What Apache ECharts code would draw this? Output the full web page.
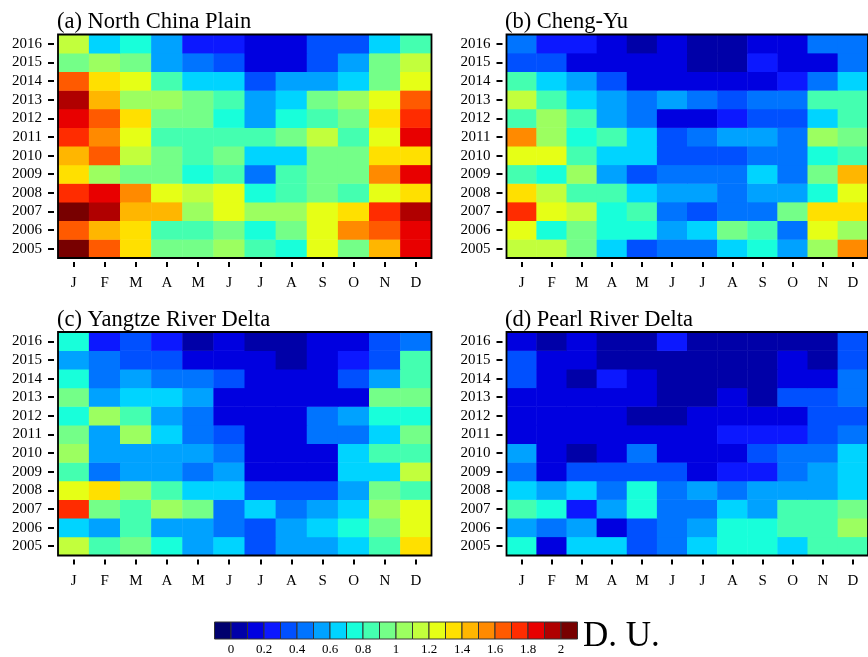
<!DOCTYPE html>
<html>
<head>
<meta charset="utf-8">
<script src="https://cdn.jsdelivr.net/npm/echarts@6/dist/echarts.min.js"></script>
<style>
html,body{margin:0;padding:0;background:#fff;}
#c{width:868px;height:657px;}
</style>
</head>
<body>
<div id="c"></div>
<script>
// ---- data (D.U.), rows = years 2005..2016, columns = J..D ----
const months = ['J','F','M','A','M','J','J','A','S','O','N','D'];
const years = ['2005','2006','2007','2008','2009','2010','2011','2012','2013','2014','2015','2016'];
const titles = ['(a) North China Plain','(b) Cheng-Yu','(c) Yangtze River Delta','(d) Pearl River Delta'];

const northChinaPlain = [
  [2.05,1.65,1.35,0.95,0.95,1.05,0.85,0.75,1.25,0.95,1.45,1.85],
  [1.65,1.45,1.35,0.85,0.85,0.95,0.75,0.95,1.25,1.55,1.65,1.85],
  [2.05,1.95,1.45,1.45,1.05,1.25,1.05,1.05,1.25,1.35,1.75,1.95],
  [1.75,1.85,1.55,1.25,1.15,1.25,0.75,0.85,0.95,0.85,1.25,1.35],
  [1.35,1.05,0.95,0.95,0.75,0.85,0.45,0.85,0.95,0.95,1.55,1.85],
  [1.45,1.65,1.15,0.95,0.85,0.95,0.65,0.65,0.95,0.95,1.35,1.35],
  [1.75,1.55,1.25,0.85,0.85,0.85,0.85,0.95,1.15,0.85,1.25,1.85],
  [1.85,1.65,1.35,0.95,0.95,0.75,0.55,0.75,0.85,0.95,1.35,1.75],
  [1.95,1.45,1.05,1.05,0.95,0.85,0.55,0.65,0.95,1.05,1.25,1.65],
  [1.65,1.35,1.25,0.85,0.65,0.65,0.35,0.55,0.55,0.65,0.95,1.25],
  [0.95,1.05,0.95,0.55,0.45,0.35,0.15,0.15,0.35,0.55,0.95,1.15],
  [1.15,0.65,0.75,0.55,0.25,0.25,0.15,0.15,0.35,0.35,0.65,0.85]
];
const chengYu = [
  [1.15,1.15,0.95,0.65,0.35,0.45,0.45,0.65,0.75,0.55,1.05,1.55],
  [1.25,0.75,0.95,0.75,0.75,0.55,0.65,0.95,0.85,0.45,1.25,1.05],
  [1.75,1.25,1.15,0.75,0.85,0.45,0.35,0.45,0.45,0.95,1.35,1.35],
  [1.35,1.15,0.85,0.85,0.65,0.55,0.55,0.45,0.55,0.55,0.75,1.25],
  [0.85,0.75,1.05,0.55,0.35,0.45,0.45,0.45,0.65,0.45,0.95,1.45],
  [1.25,1.25,0.85,0.65,0.65,0.35,0.35,0.35,0.45,0.45,0.75,0.85],
  [1.55,1.05,0.75,0.85,0.65,0.35,0.45,0.55,0.55,0.45,1.05,0.95],
  [0.85,1.05,0.85,0.55,0.45,0.15,0.15,0.25,0.35,0.35,0.65,0.85],
  [1.15,0.85,0.65,0.55,0.45,0.55,0.45,0.35,0.45,0.45,0.85,0.85],
  [0.85,0.65,0.55,0.35,0.15,0.15,0.15,0.15,0.15,0.25,0.45,0.65],
  [0.35,0.35,0.15,0.15,0.15,0.15,0.05,0.05,0.25,0.15,0.15,0.45],
  [0.45,0.25,0.25,0.15,0.05,0.15,0.05,0.05,0.15,0.15,0.45,0.45]
];
const yangtzeRiverDelta = [
  [1.15,0.85,0.95,0.75,0.55,0.65,0.35,0.55,0.55,0.65,0.85,1.35],
  [0.65,0.55,0.85,0.55,0.55,0.45,0.35,0.55,0.65,0.75,0.95,1.25],
  [1.75,0.95,0.85,1.05,0.95,0.45,0.65,0.45,0.55,0.65,1.05,1.25],
  [1.25,1.35,1.05,0.85,0.65,0.65,0.35,0.35,0.35,0.55,0.95,0.85],
  [0.85,0.45,0.55,0.55,0.45,0.55,0.15,0.15,0.15,0.65,0.65,1.15],
  [1.05,0.55,0.55,0.55,0.55,0.45,0.15,0.15,0.15,0.65,0.85,0.85],
  [0.95,0.55,1.05,0.65,0.45,0.35,0.15,0.15,0.45,0.45,0.65,0.95],
  [0.75,1.05,0.85,0.55,0.45,0.15,0.15,0.15,0.45,0.55,0.75,0.75],
  [0.95,0.55,0.65,0.65,0.55,0.15,0.15,0.15,0.15,0.15,0.95,0.95],
  [0.75,0.45,0.55,0.45,0.45,0.35,0.15,0.15,0.15,0.35,0.55,0.85],
  [0.55,0.45,0.35,0.35,0.15,0.15,0.15,0.05,0.15,0.25,0.35,0.85],
  [0.75,0.25,0.35,0.25,0.05,0.15,0.05,0.05,0.15,0.15,0.35,0.45]
];
const pearlRiverDelta = [
  [0.75,0.15,0.65,0.65,0.35,0.45,0.65,0.75,0.75,0.65,0.85,0.85],
  [0.55,0.45,0.55,0.15,0.35,0.45,0.55,0.75,0.75,0.85,0.85,1.05],
  [0.85,0.75,0.25,0.55,0.75,0.45,0.45,0.65,0.55,0.85,0.85,0.95],
  [0.65,0.55,0.65,0.45,0.75,0.45,0.55,0.45,0.55,0.55,0.55,0.65],
  [0.45,0.15,0.35,0.35,0.35,0.35,0.15,0.25,0.25,0.45,0.55,0.65],
  [0.55,0.15,0.05,0.15,0.45,0.15,0.15,0.15,0.35,0.45,0.45,0.65],
  [0.15,0.15,0.15,0.15,0.15,0.15,0.15,0.25,0.25,0.25,0.35,0.45],
  [0.15,0.15,0.15,0.15,0.05,0.05,0.15,0.15,0.15,0.15,0.35,0.35],
  [0.15,0.15,0.15,0.15,0.15,0.05,0.05,0.15,0.05,0.35,0.35,0.45],
  [0.35,0.15,0.05,0.25,0.15,0.05,0.05,0.05,0.05,0.15,0.15,0.45],
  [0.35,0.15,0.15,0.05,0.05,0.05,0.05,0.05,0.05,0.15,0.05,0.35],
  [0.15,0.05,0.15,0.05,0.05,0.25,0.05,0.05,0.05,0.05,0.05,0.35]
];

// colour-bar levels and tick labels
const levels = [0,0.1,0.2,0.3,0.4,0.5,0.6,0.7,0.8,0.9,1.0,1.1,1.2,1.3,1.4,1.5,1.6,1.7,1.8,1.9,2.0];
const levelLabels = ['0','0.2','0.4','0.6','0.8','1','1.2','1.4','1.6','1.8','2'];
const colors = ['#00006e','#0000a8','#0000e0','#0c18ff','#0050ff','#0074ff','#00a2ff','#00d4ff',
  '#18ffda','#44ffb0','#74ff88','#9cff60','#c2ff3c','#e6ff16','#ffe000','#ffb600','#ff8a00',
  '#ff5a00','#ff2c00','#e80000','#b00000','#780000'];

// ---- build option ----
const SERIF = 'Liberation Serif';
const panels = [northChinaPlain, chengYu, yangtzeRiverDelta, pearlRiverDelta];
const gridPos = [
  {left:58, top:34.5, width:373.5, height:223.5},
  {left:506.5, top:34.5, width:373.5, height:223.5},
  {left:58, top:332, width:373.5, height:223.5},
  {left:506.5, top:332, width:373.5, height:223.5}
];
const titlePos = [[57,11],[505,11],[57,309],[505,309]];

const pieces = [];
pieces.push({lt: levels[0], color: colors[0]});
for (let i = 0; i < levels.length - 1; i++) pieces.push({gte: levels[i], lt: levels[i+1], color: colors[i+1]});
pieces.push({gte: levels[levels.length-1], color: colors[colors.length-1]});

const grid = [], xAxis = [], yAxis = [], series = [], title = [];
panels.forEach((rows, p) => {
  grid.push(Object.assign({show:true, borderColor:'#000', borderWidth:1.8, backgroundColor:'transparent', z:10}, gridPos[p]));
  xAxis.push({type:'category', gridIndex:p, data:months, position:'bottom', offset:4,
    axisLine:{show:false}, axisTick:{show:true, alignWithLabel:true, length:5, lineStyle:{color:'#000', width:2}},
    axisLabel:{interval:0, margin:14, color:'#000', fontFamily:SERIF, fontSize:15}, splitLine:{show:false}});
  yAxis.push({type:'category', gridIndex:p, data:years, position:'left', offset:4,
    axisLine:{show:false}, axisTick:{show:true, alignWithLabel:true, length:6, lineStyle:{color:'#000', width:2}},
    axisLabel:{interval:0, margin:12, color:'#000', fontFamily:SERIF, fontSize:15}, splitLine:{show:false}});
  const data = [];
  rows.forEach((row, yi) => row.forEach((v, xi) => data.push([xi, yi, v])));
  series.push({type:'heatmap', xAxisIndex:p, yAxisIndex:p, data:data, itemStyle:{borderWidth:0}, emphasis:{disabled:true}, silent:true, progressive:0});
  title.push({text:titles[p], left:titlePos[p][0], top:titlePos[p][1], padding:0,
    textStyle:{fontFamily:SERIF, fontSize:22.5, fontWeight:'normal', color:'#000'}});
});

// colour bar
const cbIndex = 4;
grid.push({left:214.5, top:622, width:363, height:17});
xAxis.push({type:'value', gridIndex:cbIndex, min:-0.1, max:2.1, interval:0.1,
  axisLine:{show:false}, axisTick:{show:false}, splitLine:{show:false},
  axisLabel:{margin:4, color:'#000', fontFamily:SERIF, fontSize:13, showMinLabel:true, showMaxLabel:true,
    formatter:function(v){ const k = Math.round(v*10); if (k < 0 || k > 20 || k % 2) return ''; return levelLabels[k/2]; }}});
yAxis.push({type:'value', gridIndex:cbIndex, min:0, max:1, show:false});
const cbData = colors.map((c, i) => [i === 0 ? levels[0] - 0.1 : levels[i-1], i < levels.length ? levels[i] : levels[levels.length-1] + 0.1, i]);
series.push({type:'custom', xAxisIndex:cbIndex, yAxisIndex:cbIndex, data:cbData, silent:true,
  renderItem:function(params, api){
    const p0 = api.coord([api.value(0), 1]);
    const p1 = api.coord([api.value(1), 0]);
    return {type:'rect', shape:{x:p0[0], y:p0[1], width:p1[0]-p0[0], height:p1[1]-p0[1]},
      style:{fill:colors[api.value(2)], stroke:'#333', lineWidth:1}};
  }});

const option = {
  backgroundColor:'#fff',
  animation:false,
  title: title,
  grid: grid, xAxis: xAxis, yAxis: yAxis,
  visualMap: {type:'piecewise', show:false, seriesIndex:[0,1,2,3], dimension:2, pieces:pieces},
  series: series,
  graphic: [{type:'text', left:583, top:619, style:{text:'D. U.', font:'35px "Liberation Serif"', fill:'#000'}}]
};
const chart = echarts.init(document.getElementById('c'), null, {renderer:'canvas'});
chart.setOption(option);
</script>
</body>
</html>
